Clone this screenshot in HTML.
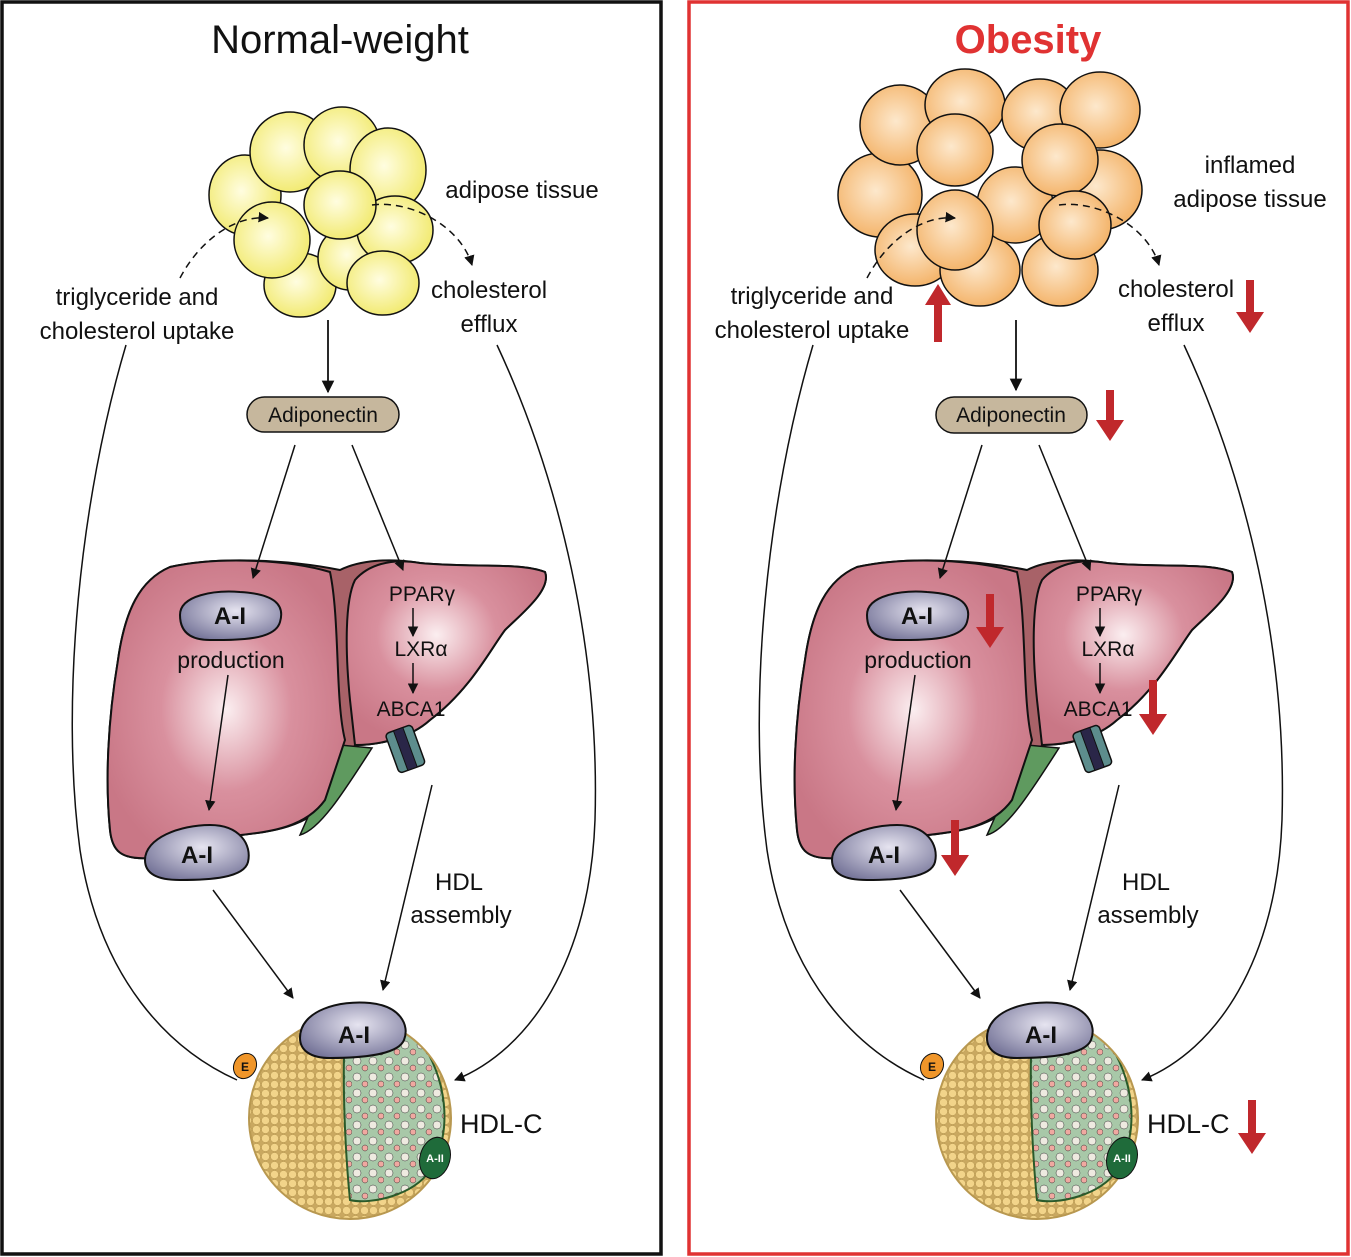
<!DOCTYPE html>
<html><head><meta charset="utf-8"><style>
html,body{margin:0;padding:0;background:#fff}
svg{display:block}
text{font-family:"Liberation Sans","DejaVu Sans",sans-serif;fill:#111}
</style></head><body>
<svg width="1351" height="1257" viewBox="0 0 1351 1257" xmlns="http://www.w3.org/2000/svg">
<defs>
<radialGradient id="yel" cx="0.45" cy="0.45" r="0.6"><stop offset="0" stop-color="#fffde0"/><stop offset="1" stop-color="#f1e96a"/></radialGradient>
<radialGradient id="org" cx="0.45" cy="0.45" r="0.6"><stop offset="0" stop-color="#fde8cc"/><stop offset="1" stop-color="#f3b063"/></radialGradient>
<radialGradient id="liv" cx="0.5" cy="0.5" r="0.55"><stop offset="0" stop-color="#fbeef0"/><stop offset="0.5" stop-color="#d9909e"/><stop offset="1" stop-color="#c97786"/></radialGradient>
<radialGradient id="liv2" cx="0.45" cy="0.4" r="0.6"><stop offset="0" stop-color="#fbeef0"/><stop offset="0.5" stop-color="#d9909e"/><stop offset="1" stop-color="#c97786"/></radialGradient>
<radialGradient id="ai" cx="0.55" cy="0.4" r="0.65"><stop offset="0" stop-color="#e6e4f0"/><stop offset="1" stop-color="#77769a"/></radialGradient>
<pattern id="dots" width="9" height="9" patternUnits="userSpaceOnUse"><rect width="9" height="9" fill="#c9a860"/><circle cx="4.5" cy="4.5" r="4" fill="#f2d48a" stroke="#b89850" stroke-width="0.5"/></pattern>
<pattern id="gdots" width="16" height="16" patternUnits="userSpaceOnUse"><rect width="16" height="16" fill="#a8c8a8"/><circle cx="5" cy="5" r="4" fill="#eeeae0" stroke="#333" stroke-width="0.5"/><circle cx="13" cy="12" r="3" fill="#f0a8a0" stroke="#333" stroke-width="0.5"/></pattern>
<marker id="ah" viewBox="0 0 10 10" refX="9" refY="5" markerWidth="7" markerHeight="7" orient="auto"><path d="M0,0 L10,5 L0,10 Z" fill="#111"/></marker>
<g id="liver">
<path d="M340,570 C360,560 390,558 420,563 C470,568 520,562 545,572 C552,590 520,615 505,630 C490,650 470,690 430,720 C410,738 380,745 355,745 L330,800 C300,835 250,832 220,838 L150,858 C120,860 112,850 110,830 C105,780 108,720 118,660 C125,610 140,580 170,567 C220,556 290,560 340,570 Z" fill="#a86268" stroke="#111" stroke-width="2"/>
<path d="M340,745 L320,790 L300,835 C320,830 345,790 372,748 Z" fill="#5f9a5f" stroke="#111" stroke-width="1.5"/>
<path d="M355,745 C380,745 410,738 430,720 C470,690 490,650 505,630 C520,615 552,590 545,572 C520,562 470,568 420,563 C390,558 368,565 355,580 C345,600 345,650 350,700 Z" fill="url(#liv2)" stroke="#111" stroke-width="2"/>
<path d="M118,660 C125,610 140,580 170,567 C220,556 290,560 330,572 C340,620 335,700 345,740 L325,800 C300,835 250,832 220,838 L150,858 C120,860 112,850 110,830 C105,780 108,720 118,660 Z" fill="url(#liv)" stroke="#111" stroke-width="2"/>
<g transform="translate(405,748) rotate(-20)"><rect x="-14" y="-20" width="28" height="42" rx="4" fill="#5d8d8d" stroke="#111" stroke-width="1.5"/><rect x="-5" y="-20" width="10" height="42" fill="#2a2648" stroke="#111"/></g>
<path d="M180,615 C180,595 215,590 240,592 C275,594 285,605 280,622 C275,640 240,640 210,640 C188,640 180,630 180,615 Z" fill="url(#ai)" stroke="#111" stroke-width="2"/>
<path d="M145,860 C145,838 180,825 210,825 C240,825 252,845 248,862 C244,878 210,880 180,880 C158,880 145,874 145,860 Z" fill="url(#ai)" stroke="#111" stroke-width="2"/>
</g>
<clipPath id="hc"><circle cx="350" cy="1118" r="101"/></clipPath>
<g id="hdl">
<g clip-path="url(#hc)">
<rect x="240" y="1010" width="220" height="220" fill="url(#dots)"/>
<path d="M345,1030 C360,1020 400,1020 420,1040 C445,1075 455,1130 430,1170 C415,1195 370,1205 350,1200 C345,1150 342,1080 345,1030 Z" fill="url(#gdots)" stroke="#2a5a2a" stroke-width="2"/>
</g>
<circle cx="350" cy="1118" r="101" fill="none" stroke="#b89850" stroke-width="2"/>
<path d="M300,1038 C300,1010 340,1000 370,1003 C400,1006 410,1025 404,1040 C398,1055 360,1058 330,1058 C310,1058 300,1050 300,1038 Z" fill="url(#ai)" stroke="#111" stroke-width="2"/>
<ellipse cx="245" cy="1066" rx="11" ry="13" fill="#f0962a" stroke="#111" transform="rotate(30 245 1066)"/>
<ellipse cx="435" cy="1158" rx="15" ry="21" fill="#1f6b3a" stroke="#111" transform="rotate(15 435 1158)"/>
</g>
</defs>

<!-- frames -->
<rect x="2" y="2" width="659" height="1252" fill="none" stroke="#111" stroke-width="3.5"/>
<rect x="689" y="2" width="659" height="1252" fill="none" stroke="#e03232" stroke-width="3.5"/>

<!-- LEFT PANEL -->
<text x="340" y="53" font-size="40" text-anchor="middle">Normal-weight</text>
<g stroke="#111" stroke-width="1.5" fill="url(#yel)">
<ellipse cx="245" cy="195" rx="36" ry="40"/>
<ellipse cx="290" cy="152" rx="40" ry="40"/>
<ellipse cx="342" cy="145" rx="38" ry="38"/>
<ellipse cx="388" cy="170" rx="38" ry="42"/>
<ellipse cx="300" cy="285" rx="36" ry="32"/>
<ellipse cx="350" cy="258" rx="32" ry="32"/>
<ellipse cx="395" cy="230" rx="38" ry="34"/>
<ellipse cx="272" cy="240" rx="38" ry="38"/>
<ellipse cx="340" cy="205" rx="36" ry="34"/>
<ellipse cx="383" cy="283" rx="36" ry="32"/>
</g>
<text x="522" y="198" font-size="24" text-anchor="middle">adipose tissue</text>
<text x="137" y="305" font-size="24" text-anchor="middle">triglyceride and</text>
<text x="137" y="339" font-size="24" text-anchor="middle">cholesterol uptake</text>
<text x="489" y="298" font-size="24" text-anchor="middle">cholesterol</text>
<text x="489" y="332" font-size="24" text-anchor="middle">efflux</text>
<path d="M180,278 C200,240 235,215 268,218" fill="none" stroke="#111" stroke-width="1.5" stroke-dasharray="7,5" marker-end="url(#ah)"/>
<path d="M372,205 C410,200 460,225 472,265" fill="none" stroke="#111" stroke-width="1.5" stroke-dasharray="7,5" marker-end="url(#ah)"/>
<line x1="328" y1="320" x2="328" y2="392" stroke="#111" stroke-width="1.8" marker-end="url(#ah)"/>
<rect x="247" y="397" width="152" height="35" rx="17.5" fill="#c6b79d" stroke="#111" stroke-width="1.5"/>
<text x="323" y="422" font-size="21" text-anchor="middle">Adiponectin</text>
<use href="#liver"/>
<text x="230" y="624" font-size="24" font-weight="bold" text-anchor="middle">A-I</text>
<text x="197" y="863" font-size="24" font-weight="bold" text-anchor="middle">A-I</text>
<text x="231" y="668" font-size="23" text-anchor="middle">production</text>
<text x="422" y="601" font-size="21" text-anchor="middle">PPARγ</text>
<text x="421" y="656" font-size="21" text-anchor="middle">LXRα</text>
<text x="411" y="716" font-size="21" text-anchor="middle">ABCA1</text>
<line x1="413" y1="608" x2="413" y2="636" stroke="#111" stroke-width="1.5" marker-end="url(#ah)"/>
<line x1="413" y1="663" x2="413" y2="693" stroke="#111" stroke-width="1.5" marker-end="url(#ah)"/>
<line x1="295" y1="445" x2="253" y2="578" stroke="#111" stroke-width="1.5" marker-end="url(#ah)"/>
<line x1="352" y1="445" x2="403" y2="570" stroke="#111" stroke-width="1.5" marker-end="url(#ah)"/>
<line x1="228" y1="675" x2="209" y2="810" stroke="#111" stroke-width="1.5" marker-end="url(#ah)"/>
<line x1="213" y1="890" x2="293" y2="998" stroke="#111" stroke-width="1.5" marker-end="url(#ah)"/>
<line x1="432" y1="785" x2="383" y2="990" stroke="#111" stroke-width="1.5" marker-end="url(#ah)"/>
<text x="459" y="890" font-size="24" text-anchor="middle">HDL</text>
<text x="461" y="923" font-size="24" text-anchor="middle">assembly</text>
<path d="M126,345 C80,500 60,700 80,850 C100,980 170,1050 237,1080" fill="none" stroke="#111" stroke-width="1.5"/>
<path d="M497,345 C560,480 600,650 595,820 C590,960 530,1050 455,1080" fill="none" stroke="#111" stroke-width="1.5" marker-end="url(#ah)"/>
<use href="#hdl"/>
<text x="354" y="1043" font-size="24" font-weight="bold" text-anchor="middle">A-I</text>
<text x="245" y="1071" font-size="12" font-weight="bold" text-anchor="middle">E</text>
<text x="435" y="1162" font-size="11" font-weight="bold" text-anchor="middle" style="fill:#fff">A-II</text>
<text x="460" y="1133" font-size="27">HDL-C</text>

<!-- RIGHT PANEL -->
<text x="1028" y="53" font-size="40" font-weight="bold" text-anchor="middle" style="fill:#e03232">Obesity</text>
<g stroke="#111" stroke-width="1.5" fill="url(#org)">
<ellipse cx="880" cy="195" rx="42" ry="42"/>
<ellipse cx="900" cy="125" rx="40" ry="40"/>
<ellipse cx="965" cy="105" rx="40" ry="36"/>
<ellipse cx="1040" cy="115" rx="38" ry="36"/>
<ellipse cx="1100" cy="110" rx="40" ry="38"/>
<ellipse cx="1100" cy="190" rx="42" ry="40"/>
<ellipse cx="915" cy="250" rx="40" ry="36"/>
<ellipse cx="980" cy="270" rx="40" ry="36"/>
<ellipse cx="1060" cy="270" rx="38" ry="36"/>
<ellipse cx="1015" cy="205" rx="38" ry="38"/>
<ellipse cx="955" cy="230" rx="38" ry="40"/>
<ellipse cx="955" cy="150" rx="38" ry="36"/>
<ellipse cx="1060" cy="160" rx="38" ry="36"/>
<ellipse cx="1075" cy="225" rx="36" ry="34"/>
</g>
<text x="1250" y="173" font-size="24" text-anchor="middle">inflamed</text>
<text x="1250" y="207" font-size="24" text-anchor="middle">adipose tissue</text>
<text x="812" y="304" font-size="24" text-anchor="middle">triglyceride and</text>
<text x="812" y="338" font-size="24" text-anchor="middle">cholesterol uptake</text>
<text x="1176" y="297" font-size="24" text-anchor="middle">cholesterol</text>
<text x="1176" y="331" font-size="24" text-anchor="middle">efflux</text>
<path d="M867,278 C887,240 922,215 955,218" fill="none" stroke="#111" stroke-width="1.5" stroke-dasharray="7,5" marker-end="url(#ah)"/>
<path d="M1059,205 C1097,200 1147,225 1159,265" fill="none" stroke="#111" stroke-width="1.5" stroke-dasharray="7,5" marker-end="url(#ah)"/>
<line x1="1016" y1="320" x2="1016" y2="390" stroke="#111" stroke-width="1.8" marker-end="url(#ah)"/>
<rect x="936" y="397" width="151" height="36" rx="18" fill="#c6b79d" stroke="#111" stroke-width="1.5"/>
<text x="1011" y="422" font-size="21" text-anchor="middle">Adiponectin</text>
<use href="#liver" transform="translate(687,0)"/>
<text x="917" y="624" font-size="24" font-weight="bold" text-anchor="middle">A-I</text>
<text x="884" y="863" font-size="24" font-weight="bold" text-anchor="middle">A-I</text>
<text x="918" y="668" font-size="23" text-anchor="middle">production</text>
<text x="1109" y="601" font-size="21" text-anchor="middle">PPARγ</text>
<text x="1108" y="656" font-size="21" text-anchor="middle">LXRα</text>
<text x="1098" y="716" font-size="21" text-anchor="middle">ABCA1</text>
<line x1="1100" y1="608" x2="1100" y2="636" stroke="#111" stroke-width="1.5" marker-end="url(#ah)"/>
<line x1="1100" y1="663" x2="1100" y2="693" stroke="#111" stroke-width="1.5" marker-end="url(#ah)"/>
<line x1="982" y1="445" x2="940" y2="578" stroke="#111" stroke-width="1.5" marker-end="url(#ah)"/>
<line x1="1039" y1="445" x2="1090" y2="570" stroke="#111" stroke-width="1.5" marker-end="url(#ah)"/>
<line x1="915" y1="675" x2="896" y2="810" stroke="#111" stroke-width="1.5" marker-end="url(#ah)"/>
<line x1="900" y1="890" x2="980" y2="998" stroke="#111" stroke-width="1.5" marker-end="url(#ah)"/>
<line x1="1119" y1="785" x2="1070" y2="990" stroke="#111" stroke-width="1.5" marker-end="url(#ah)"/>
<text x="1146" y="890" font-size="24" text-anchor="middle">HDL</text>
<text x="1148" y="923" font-size="24" text-anchor="middle">assembly</text>
<path d="M813,345 C767,500 747,700 767,850 C787,980 857,1050 924,1080" fill="none" stroke="#111" stroke-width="1.5"/>
<path d="M1184,345 C1247,480 1287,650 1282,820 C1277,960 1217,1050 1142,1080" fill="none" stroke="#111" stroke-width="1.5" marker-end="url(#ah)"/>
<use href="#hdl" transform="translate(687,0)"/>
<text x="1041" y="1043" font-size="24" font-weight="bold" text-anchor="middle">A-I</text>
<text x="932" y="1071" font-size="12" font-weight="bold" text-anchor="middle">E</text>
<text x="1122" y="1162" font-size="11" font-weight="bold" text-anchor="middle" style="fill:#fff">A-II</text>
<text x="1147" y="1133" font-size="27">HDL-C</text>

<!-- red indicator arrows -->
<g fill="#c0282c">
<path d="M934,342 L942,342 L942,305 L951,305 L938,284 L925,305 L934,305 Z"/>
<path d="M1246,280 L1254,280 L1254,312 L1264,312 L1250,333 L1236,312 L1246,312 Z"/>
<path d="M1106,390 L1114,390 L1114,420 L1124,420 L1110,441 L1096,420 L1106,420 Z"/>
<path d="M986,594 L994,594 L994,627 L1004,627 L990,648 L976,627 L986,627 Z"/>
<path d="M1149,680 L1157,680 L1157,714 L1167,714 L1153,735 L1139,714 L1149,714 Z"/>
<path d="M951,820 L959,820 L959,855 L969,855 L955,876 L941,855 L951,855 Z"/>
<path d="M1248,1100 L1256,1100 L1256,1133 L1266,1133 L1252,1154 L1238,1133 L1248,1133 Z"/>
</g>
</svg>
</body></html>
